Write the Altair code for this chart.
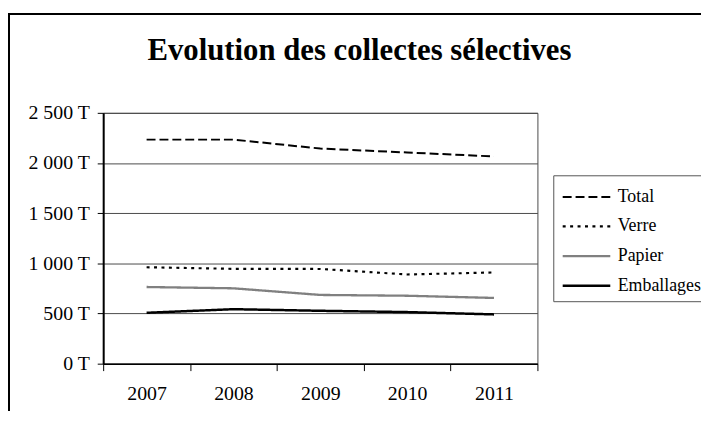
import altair as alt
import pandas as pd

years = ["2007", "2008", "2009", "2010", "2011"]
total = [2233, 2233, 2144, 2105, 2065]
verre = [961, 945, 944, 889, 909]
papier = [764, 751, 685, 677, 655]
emballages = [507, 543, 527, 514, 491]

series_names = ["Total", "Verre", "Papier", "Emballages"]
y_ticks = [0, 500, 1000, 1500, 2000, 2500]
y_tick_labels = ["0 T", "500 T", "1 000 T", "1 500 T", "2 000 T", "2 500 T"]
title_text = "Evolution des collectes sélectives"

rows = []
for name, vals in zip(series_names, [total, verre, papier, emballages]):
    for yr, v in zip(years, vals):
        rows.append({"Année": yr, "Valeur": v, "Série": name})
df = pd.DataFrame(rows)

label_expr = " : ".join(
    f"datum.value == {v} ? '{l}'" for v, l in zip(y_ticks, y_tick_labels)
) + " : ''"

FONT = "Liberation Serif"

lines = alt.Chart(df).mark_line(clip=False).encode(
    x=alt.X("Année:N", bandPosition=0.5,
            scale=alt.Scale(type="band", domain=years, paddingInner=0, paddingOuter=0),
            axis=alt.Axis(title=None, labelAngle=0, tickBand="extent", tickSize=7,
                          labelPadding=13, labelFontSize=20, labelFont=FONT,
                          labelColor="black", domainColor="black", domainWidth=1.5,
                          tickColor="black", tickWidth=1, grid=False)),
    y=alt.Y("Valeur:Q",
            scale=alt.Scale(domain=[0, 2500], nice=False),
            axis=alt.Axis(title=None, values=y_ticks, labelExpr=label_expr,
                          tickSize=6, labelPadding=8, labelFontSize=20, labelFont=FONT,
                          labelColor="black", domainColor="black", domainWidth=2,
                          tickColor="black", tickWidth=1, grid=True,
                          gridColor="#4a4a4a", gridWidth=1)),
    color=alt.Color("Série:N",
                    scale=alt.Scale(domain=series_names,
                                    range=["black", "black", "#808080", "black"]),
                    legend=alt.Legend(title=None)),
    strokeDash=alt.StrokeDash("Série:N",
                              scale=alt.Scale(domain=series_names,
                                              range=[[9, 4], [3, 4.5], [1, 0], [1, 0]]),
                              legend=alt.Legend(title=None)),
    strokeWidth=alt.StrokeWidth("Série:N",
                                scale=alt.Scale(domain=series_names, range=[2, 2.5, 1.3, 3]),
                                legend=alt.Legend(title=None)),
    order=alt.Order("Année:N"),
)

frame_top = alt.Chart(df).mark_rule(color="black", strokeWidth=1.5, clip=False).encode(
    x=alt.value(-95.5), x2=alt.value(620), y=alt.value(-100)
)
frame_left = alt.Chart(df).mark_rule(color="black", strokeWidth=1.5, clip=False).encode(
    x=alt.value(-95.5), y=alt.value(-100), y2=alt.value(320)
)

chart = alt.layer(frame_top, frame_left, lines).properties(
    width=438,
    height=253,
    background="white",
    autosize=alt.AutoSizeParams(type="none"),
    padding={"left": 96, "top": 104, "right": 165, "bottom": 46},
    title=alt.TitleParams(title_text, font=FONT, fontSize=31, fontWeight="bold",
                          color="black", anchor="middle", frame="group",
                          dx=39.5, dy=78.75, offset=0, baseline="alphabetic"),
).configure_view(stroke="#4a4a4a", strokeWidth=1).configure_legend(
    orient="none", legendX=454, legendY=63,
    strokeColor="#555555", fillColor="white",
    padding=6, rowPadding=4, symbolType="M-0.867,0L2.333,0",
    symbolSize=900, labelFontSize=18, labelFont=FONT,
    labelColor="black", labelOffset=26, labelLimit=200,
)

chart.save("out.html", embed_options={"renderer": "svg", "actions": False})
